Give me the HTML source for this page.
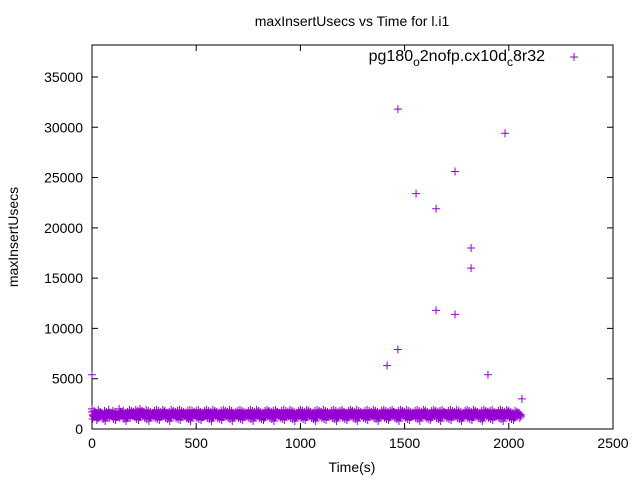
<!DOCTYPE html>
<html><head><meta charset="utf-8"><style>
body{margin:0;background:#fff;font-family:"Liberation Sans",sans-serif;}
svg text{font-family:"Liberation Sans",sans-serif;font-size:14px;fill:#000;}
</style></head><body>
<svg id="chart" width="640" height="480" xmlns="http://www.w3.org/2000/svg">
<rect width="640" height="480" fill="#fff"/>
<text x="352" y="26" text-anchor="middle">maxInsertUsecs vs Time for l.i1</text>
<text transform="translate(18,237) rotate(-90)" text-anchor="middle">maxInsertUsecs</text>
<text x="352" y="472" text-anchor="middle">Time(s)</text>
<g id="axes"></g>
<g id="marks"></g>
<text x="545" y="61" text-anchor="end" style="font-size:16px">pg180<tspan style="font-size:12px" dy="5">o</tspan><tspan dy="-5">2nofp.cx10d</tspan><tspan style="font-size:12px" dy="5">c</tspan><tspan dy="-5">8r32</tspan></text>
<path d="M570 57h8M574 53v8" stroke="#9400d3" stroke-width="1"/>
</svg>
<script>
const xTicks=[0,500,1000,1500,2000,2500];
const yTicks=[0,5000,10000,15000,20000,25000,30000,35000];
const outX=[0,0,1416,1468,1468,1555,1651,1651,1742,1742,1819,1819,1900,1982,2063];
const outY=[5400,2000,6300,31800,7900,23400,21900,11800,25600,11400,18000,16000,5400,29400,3000];
const bandStep=10;
const bandHi=[1700,1800,1600,1900,1700,1500,1800,1700,1900,1600,1800,1700,1600,2000,1700,1800,1600,1700,1900,1800,1700,1900,1800,2000,1800,1700,1900,1800,1700,1600,1800,1900,1800,1700,1900,1800,1600,1700,1900,1800,1700,1800,1900,1800,1700,1600,1800,1900,1800,1700,1800,1900,1700,1600,1800,1900,1800,1700,1900,1800,1700,1600,1800,1900,1800,1700,1900,1800,1600,1700,1800,1900,1800,1700,1600,1800,1900,1800,1700,1900,1800,1700,1600,1800,1900,1800,1700,1800,1900,1700,1600,1800,1900,1800,1700,1900,1800,1700,1600,1800,1900,1800,1700,1900,1800,1700,1600,1800,1900,1800,1700,1900,1800,1700,1600,1800,1900,1800,1700,1800,1900,1700,1600,1800,1900,1800,1700,1900,1800,1700,1600,1800,1900,1800,1700,1900,1800,1700,1600,1800,1900,1800,1700,1800,1900,1700,1600,1800,1900,1800,1700,1900,1800,1700,1600,1800,1900,1800,1700,1900,1800,1700,1600,1800,1900,1800,1700,1800,1900,1700,1600,1800,1900,1800,1700,1900,1800,1700,1600,1800,1900,1800,1700,1900,1800,1700,1600,1800,1900,1800,1700,1800,1900,1700,1600,1800,1900,1800,1700,1900,1800,1700,1600,1800,1700,1600];
const bandLo=[1000,1200,900,1100,1300,1000,800,1200,1100,1300,1000,900,1200,1100,1300,1000,800,1200,1100,1300,1200,1000,900,1200,1300,1100,1000,800,1200,1300,1100,1000,900,1200,1300,1100,1000,800,1200,1300,1100,1000,900,1200,1300,1100,1000,800,1200,1300,1100,1000,900,1200,1300,1100,1000,800,1200,1300,1100,1000,900,1200,1300,1100,1000,800,1200,1300,1100,1000,900,1200,1300,1100,1000,800,1200,1300,1100,1000,900,1200,1300,1100,1000,800,1200,1300,1100,1000,900,1200,1300,1100,1000,800,1200,1300,1100,1000,900,1200,1300,1100,1000,800,1200,1300,1100,1000,900,1200,1300,1100,1000,800,1200,1300,1100,1000,900,1200,1300,1100,1000,800,1200,1300,1100,1000,900,1200,1300,1100,1000,800,1200,1300,1100,1000,900,1200,1300,1100,1000,800,1200,1300,1100,1000,900,1200,1300,1100,1000,800,1200,1300,1100,1000,900,1200,1300,1100,1000,800,1200,1300,1100,1000,900,1200,1300,1100,1000,800,1200,1300,1100,1000,900,1200,1300,1100,1000,800,1200,1300,1100,1000,900,1200,1300,1100,1000,800,1200,1300,1100,1000,900,1200,1300,1100];
const X0=92,X1=613,Y0=429,Y1=45,XMAX=2500,YMAX=38180;
function sx(v){return X0+(X1-X0)*v/XMAX;}
function sy(v){return Y0-(Y0-Y1)*v/YMAX;}
const NS="http://www.w3.org/2000/svg";
const axes=document.getElementById('axes'),marks=document.getElementById('marks');
function mk(tag,attrs,parent){const e=document.createElementNS(NS,tag);for(const k in attrs)e.setAttribute(k,attrs[k]);parent.appendChild(e);return e;}
const frame=mk('rect',{x:X0,y:Y1,width:X1-X0,height:Y0-Y1,fill:'none',stroke:'#000','stroke-width':1},axes);


xTicks.forEach(t=>{const x=sx(t);
 const l=mk('path',{d:`M${x} ${Y0}v-6M${x} ${Y1}v6`,stroke:'#000'},axes);
 
 
 const tx=mk('text',{x:x,y:Y0+19,'text-anchor':'middle'},axes);tx.textContent=t;
 
 });
yTicks.forEach(t=>{const y=sy(t);
 const l=mk('path',{d:`M${X0} ${y}h6M${X1} ${y}h-6`,stroke:'#000'},axes);
 
 
 const tx=mk('text',{x:X0-9,y:y+5,'text-anchor':'end'},axes);tx.textContent=t;
 
 });
function plus(x,y){const p=mk('path',{d:`M${x-4} ${y}h8M${x} ${y-4}v8`,stroke:'#9400d3','stroke-width':1},marks);
 
 }
bandHi.forEach((v,i)=>{const t=i*bandStep;const lo=bandLo[i];
 plus(sx(t),sy(v));plus(sx(t+5),sy((v+lo)/2));plus(sx(t+3),sy(lo));
 plus(sx(t+7),sy((2*v+lo)/3));plus(sx(t+8),sy((v+2*lo)/3));});
outX.forEach((t,i)=>plus(sx(t),sy(outY[i])));
</script>
</body></html>
